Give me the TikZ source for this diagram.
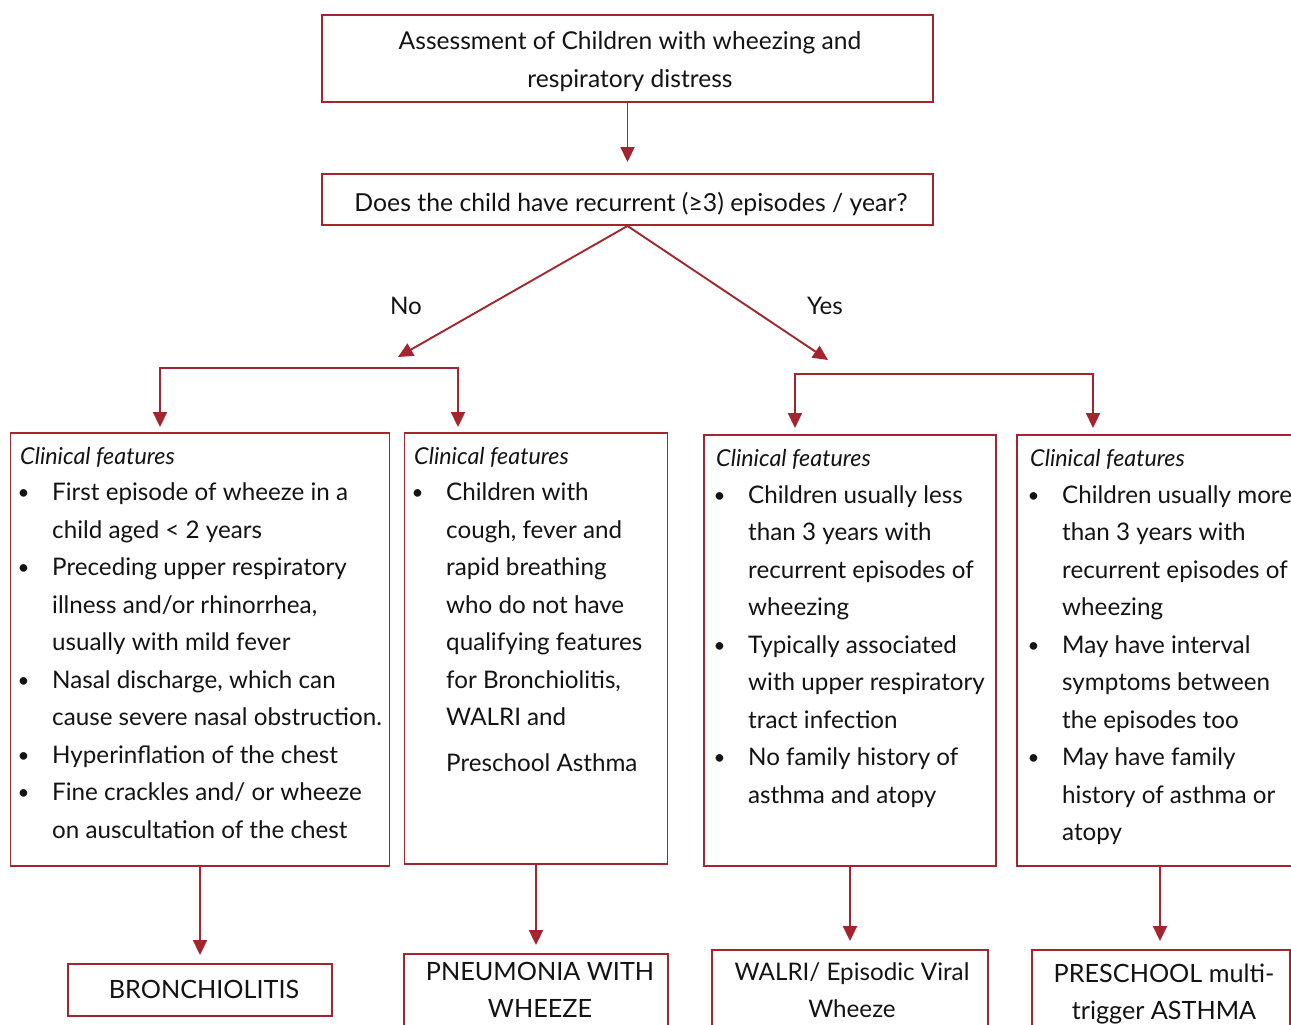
\documentclass[tikz,border=0pt]{standalone}
\usepackage{fontspec}
\setmainfont{Lato}
\usetikzlibrary{arrows.meta}
\definecolor{frame}{RGB}{163,38,46}
\definecolor{ink}{RGB}{20,18,19}

% bullet and continuation indents for the feature lists
\newcommand{\bl}{\makebox[32pt][l]{\hspace{-2.5pt}\raisebox{0.8pt}{\fontsize{20.5}{20}\selectfont •}}}
\newcommand{\ct}{\makebox[32pt][l]{}}

\tikzset{
  box/.style={draw=frame, line width=1.9pt, rectangle, inner sep=0pt},
  arr/.style={draw=frame, line width=1.9pt, -{Triangle[length=15pt,width=14pt]}},
  txt/.style={text=ink, inner sep=0pt, font=\fontsize{24.2}{37.5}\selectfont},
  head/.style={txt, font=\fontsize{23.3}{37.5}\selectfont\itshape},
  toptxt/.style={txt, font=\fontsize{24.6}{37.5}\selectfont},
  bigtxt/.style={txt, font=\fontsize{24.8}{37.5}\selectfont},
  outtxt/.style={txt, font=\fontsize{25.2}{37.5}\selectfont},
}

\begin{document}
\begin{tikzpicture}[x=1pt, y=-1pt]
\useasboundingbox (0,0) rectangle (1291,1025);
\clip (0,0) rectangle (1291,1025);

% top of the flow
\node[box, minimum width=611pt, minimum height=87pt] (T) at (627.5,58.5) {};
\node[toptxt, anchor=base] (Tt) at (630,50) {Assessment of Children with wheezing and};
\node[toptxt, anchor=base] (Tt2) at (630,87.5) {respiratory distress};

\node[box, minimum width=611pt, minimum height=51pt] (Q) at (627.5,199.5) {};
\node[bigtxt, anchor=base] (Qt) at (631,211) {Does the child have recurrent (≥3) episodes / year?};

\draw[arr, shorten >=11pt] (T.south) -- (T.south |- Q.north);

% the two branches
\coordinate (noTip) at (398,357);
\coordinate (yesTip) at (828,360);
\draw[arr] (Q.south) -- (noTip);
\draw[arr] (Q.south) -- (yesTip);
\node[txt, anchor=base] (no) at (406,314) {No};
\node[txt, anchor=base] (yes) at (825,314) {Yes};

% clinical feature boxes
\node[box, minimum width=379pt, minimum height=433pt] (A) at (200,649.5) {};
\node[box, minimum width=263pt, minimum height=431pt] (B) at (536,648.5) {};
\node[box, minimum width=292pt, minimum height=431pt] (C) at (850,650.5) {};
\node[box, minimum width=286pt, minimum height=431pt] (D) at (1160,650.5) {};

% brackets feeding the boxes
\coordinate (nl) at (160,368);
\coordinate (nr) at (458,368);
\coordinate (yl) at (795,374);
\coordinate (yr) at (1093,374);
\draw[arr, shorten >=5pt] (nr) -- (nl) -- (nl |- A.north);
\draw[arr, shorten >=5pt] (nl) -- (nr) -- (nr |- B.north);
\draw[arr, shorten >=6pt] (yr) -- (yl) -- (yl |- C.north);
\draw[arr, shorten >=6pt] (yl) -- (yr) -- (yr |- D.north);

% box contents
\node[head, anchor=base west] (Ah) at (20,464) {Clinical features};
\node[txt, anchor=base west] (Ab) at (20,500.5) {\begin{tabular}[t]{@{}l@{}}
\bl First episode of wheeze in a\\
\ct child aged < 2 years\\
\bl Preceding upper respiratory\\
\ct illness and/or rhinorrhea,\\
\ct usually with mild fever\\
\bl Nasal discharge, which can\\
\ct cause severe nasal obstruction.\\
\bl Hyperinflation of the chest\\
\bl Fine crackles and/ or wheeze\\
\ct on auscultation of the chest
\end{tabular}};

\node[head, anchor=base west] (Bh) at (414,464) {Clinical features};
\node[txt, anchor=base west] (Bb) at (414,500.5) {\begin{tabular}[t]{@{}l@{}}
\bl Children with\\
\ct cough, fever and\\
\ct rapid breathing\\
\ct who do not have\\
\ct qualifying features\\
\ct for Bronchiolitis,\\
\ct WALRI and\\[8.5pt]
\ct Preschool Asthma
\end{tabular}};

\node[head, anchor=base west] (Ch) at (716,466) {Clinical features};
\node[txt, anchor=base west] (Cb) at (716,503) {\begin{tabular}[t]{@{}l@{}}
\bl Children usually less\\
\ct than 3 years with\\
\ct recurrent episodes of\\
\ct wheezing\\
\bl Typically associated\\
\ct with upper respiratory\\
\ct tract infection\\
\bl No family history of\\
\ct asthma and atopy
\end{tabular}};

\node[head, anchor=base west] (Dh) at (1030,466) {Clinical features};
\node[txt, anchor=base west] (Db) at (1030,503) {\begin{tabular}[t]{@{}l@{}}
\bl Children usually more\\
\ct than 3 years with\\
\ct recurrent episodes of\\
\ct wheezing\\
\bl May have interval\\
\ct symptoms between\\
\ct the episodes too\\
\bl May have family\\
\ct history of asthma or\\
\ct atopy
\end{tabular}};

% outcomes
\node[box, minimum width=264pt, minimum height=52pt] (BR) at (200,990) {};
\node[box, minimum width=264pt, minimum height=106pt] (PN) at (536,1007) {};
\node[box, minimum width=276pt, minimum height=110pt] (WA) at (850,1005) {};
\node[box, minimum width=258pt, minimum height=110pt] (PR) at (1161,1005) {};

\node[outtxt, anchor=base] (BRt) at (204,998) {BRONCHIOLITIS};
\node[outtxt, anchor=base] (PNt) at (540,980) {\begin{tabular}[t]{@{}c@{}}PNEUMONIA WITH\\ WHEEZE\end{tabular}};
\node[txt, anchor=base] (WAt) at (852,980) {\begin{tabular}[t]{@{}c@{}}WALRI/ Episodic Viral\\ Wheeze\end{tabular}};
\node[outtxt, anchor=base] (PRt) at (1164,982) {\begin{tabular}[t]{@{}c@{}}PRESCHOOL multi-\\ trigger ASTHMA\end{tabular}};

\draw[arr, shorten >=8pt] (A.south) -- (A.south |- BR.north);
\draw[arr, shorten >=8pt] (B.south) -- (B.south |- PN.north);
\draw[arr, shorten >=8pt] (C.south) -- (C.south |- WA.north);
\draw[arr, shorten >=8pt] (D.south) -- (D.south |- PR.north);
\end{tikzpicture}
\end{document}
